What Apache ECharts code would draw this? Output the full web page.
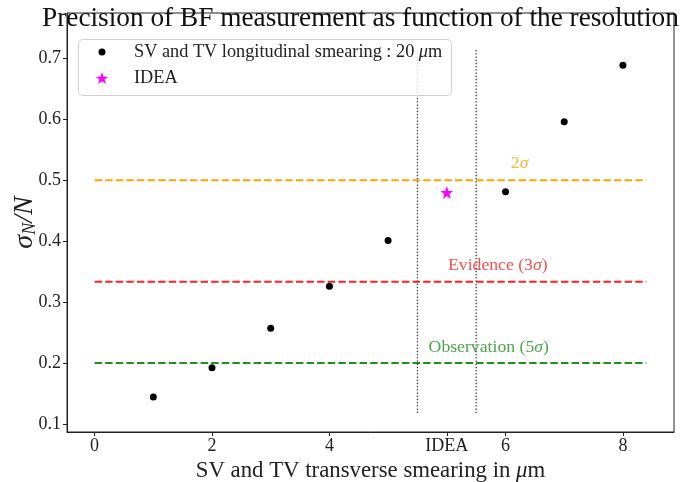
<!DOCTYPE html>
<html><head><meta charset="utf-8">
<script src="https://cdn.jsdelivr.net/npm/echarts@6/dist/echarts.min.js"></script>
<style>html,body{margin:0;padding:0;background:#fff}#c{width:686px;height:482px}</style>
</head><body><div id="c"></div>
<script>
// ---- data ----
const smearing = [1, 2, 3, 4, 5, 6, 7, 8];            // transverse smearing (μm)
const axisPos  = [1, 2, 3, 4, 5, 7, 8, 9];            // slot on the x axis (IDEA slot at 6)
const sigmaN   = [0.144, 0.192, 0.257, 0.326, 0.401, 0.481, 0.596, 0.689];
const ideaPos  = [6];
const ideaVal  = [0.480];
const xTickPos    = [0, 2, 4, 6, 7, 9];
const xTickLabels = ['0', '2', '4', 'IDEA', '6', '8'];
const yTicks = [0.1, 0.2, 0.3, 0.4, 0.5, 0.6, 0.7];
const thrValues = [0.5, 1/3, 0.2];
const thrLabels = ['2{i|σ}', 'Evidence (3{i|σ})', 'Observation (5{i|σ})'];
const thrColors = ['#FFA500', '#FF2020', '#1f8f1f'];
const thrSpan   = [0, 9.4];
const annoX = [7.09, 6.02, 5.69];
const annoY = [0.528, 0.361, 0.226];
const vlineX = [5.5, 6.5];
const vlineY = [0.118, 0.717];
const seriesName = 'SV and TV longitudinal smearing : 20 μm';
const ideaName = 'IDEA';

const FONT = 'Liberation Serif';
const STAR = 'path://M50,0 L61.8,35.1 L98.1,35.1 L68.8,56.7 L79.4,90.5 L50,69.1 L20.6,90.5 L31.2,56.7 L1.9,35.1 L38.2,35.1 Z';

const chart = echarts.init(document.getElementById('c'), null, {renderer: 'canvas'});

const series = [];
thrValues.forEach((v, i) => {
  series.push({
    type: 'line', silent: true, symbol: 'none', z: 2,
    data: thrSpan.map(x => [x, v]),
    lineStyle: {color: thrColors[i], width: 2, type: [7.4, 3.2]}
  });
});
vlineX.forEach(x => {
  series.push({
    type: 'line', silent: true, symbol: 'none', z: 2,
    data: vlineY.map(y => [x, y]),
    lineStyle: {color: '#333', width: 1.3, type: [1.3, 1.9]}
  });
});
series.push({
  type: 'scatter', silent: true, symbolSize: 0, z: 3,
  data: annoX.map((x, i) => ({
    value: [x, annoY[i]],
    label: {
      show: true, position: 'right', distance: 0,
      formatter: thrLabels[i],
      color: thrColors[i], fontFamily: FONT, fontSize: 17.7,
      rich: {i: {fontStyle: 'italic', fontFamily: FONT, fontSize: 17.7, color: thrColors[i]}}
    }
  }))
});
series.push({
  name: seriesName, type: 'scatter', symbol: 'circle', symbolSize: 7, z: 5,
  itemStyle: {color: '#000', opacity: 1},
  data: axisPos.map((p, i) => [p, sigmaN[i]])
});
series.push({
  name: ideaName, type: 'scatter', symbol: STAR, symbolSize: 13, z: 5,
  itemStyle: {color: '#FF00FF', opacity: 1},
  data: ideaPos.map((p, i) => [p, ideaVal[i]])
});

chart.setOption({
  animation: false,
  textStyle: {fontFamily: FONT},
  title: {
    text: 'Precision of BF measurement as function of the resolution',
    left: 42, top: 5, padding: 0,
    textStyle: {fontFamily: FONT, fontSize: 27.3, fontWeight: 'normal', color: '#111'}
  },
  grid: {left: 67, right: 12, top: 13, bottom: 50, outerBoundsMode: 'none', containLabel: false,
    show: true, borderColor: '#222', borderWidth: 1, backgroundColor: 'transparent'},
  graphic: [{
    type: 'rect', z: 50, left: 78, top: 39,
    shape: {width: 373, height: 56, r: 4},
    style: {fill: 'rgba(255,255,255,0.8)', stroke: '#d0d0d0', lineWidth: 1}
  }],
  legend: [
    {
      data: [seriesName], left: 98.5, top: 43, padding: 0, z: 60,
      itemWidth: 7, itemHeight: 7, selectedMode: false,
      formatter: () => 'SV and TV longitudinal smearing : 20 {i|μ}m',
      textStyle: {fontFamily: FONT, fontSize: 18.3, color: '#222', padding: [0, 0, 0, 23.5],
        rich: {i: {fontStyle: 'italic', fontFamily: FONT, fontSize: 18.3, color: '#222'}}}
    },
    {
      data: [ideaName], left: 95.5, top: 69, padding: 0, z: 60,
      itemWidth: 13, itemHeight: 13, selectedMode: false,
      textStyle: {fontFamily: FONT, fontSize: 18.3, color: '#222', padding: [0, 0, 0, 20.5]}
    }
  ],
  xAxis: {
    type: 'value', min: -0.47, max: 9.87,
    splitLine: {show: false},
    axisLine: {show: true, onZero: false, lineStyle: {color: '#222'}},
    axisTick: {show: true, inside: false, length: 4, customValues: xTickPos, lineStyle: {color: '#222'}},
    axisLabel: {
      customValues: xTickPos, margin: 5, color: '#222', fontFamily: FONT, fontSize: 18,
      formatter: v => xTickLabels[xTickPos.indexOf(v)]
    },
    name: 'SV and TV transverse smearing in {i|μ}m', nameLocation: 'middle', nameGap: 20,
    nameTextStyle: {fontFamily: FONT, fontSize: 22.8, color: '#222', verticalAlign: 'top',
      rich: {i: {fontStyle: 'italic', fontFamily: FONT, fontSize: 22.8, color: '#222'}}}
  },
  yAxis: {
    type: 'value', min: 0.0867, max: 0.7747,
    splitLine: {show: false},
    axisLine: {show: true, onZero: false, lineStyle: {color: '#222'}},
    axisTick: {show: true, inside: false, length: 4, customValues: yTicks, lineStyle: {color: '#222'}},
    axisLabel: {
      customValues: yTicks, margin: 6, color: '#222', fontFamily: FONT, fontSize: 18,
      formatter: v => v.toFixed(1)
    },
    name: '{i|σ}{s|N}{i|/N}', nameLocation: 'middle', nameGap: 28, nameRotate: 90,
    nameMoveOverlap: false,
    nameTextStyle: {fontFamily: FONT, fontSize: 28, color: '#222',
      rich: {
        i: {fontStyle: 'italic', fontFamily: FONT, fontSize: 28, color: '#222'},
        s: {fontStyle: 'italic', fontFamily: FONT, fontSize: 18, color: '#222', verticalAlign: 'bottom', padding: [11, 0, 0, 0]}
      }}
  },
  series: series
});
</script></body></html>
